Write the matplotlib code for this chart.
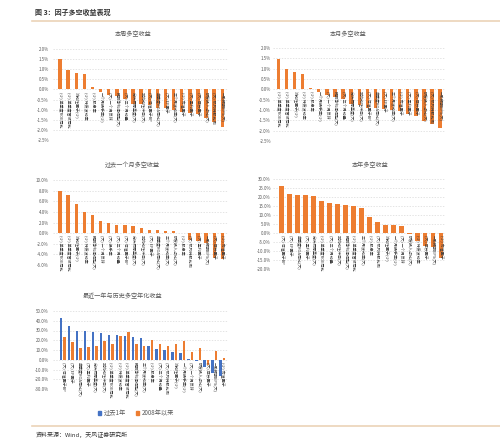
import numpy as np
import matplotlib.pyplot as plt
from matplotlib.patches import Patch

plt.rcParams['font.family'] = ['Noto Sans CJK SC', 'DejaVu Sans']

ORANGE = '#ED7D31'
BLUE = '#4472C4'
GRAY = '#595959'
LINE = '#EBD3B8'
W, H = 500, 446

# 本周多空收益 (%)
week_names = ['(小) 单季度ROE同比', '(小) 单季度营收同比', '流动性因子(小)', '(小) 特质波动率',
              '(小) 股息率', '一个月换手率(小)', '(大) 一个月反转', '预期净利润调整(大)',
              '(大) 三个月动量', '分析师覆盖度(大)', '非流动性冲击(大)', '(大) 估值因子BP',
              '单季度ROA同比(大)', '(大) EP因子', '三个月波动率(大)', '(小) 市值因子',
              '(大) 盈利因子', '(大) 成长因子', '研发投入占比(大)', '(大) 机构持股比例',
              '一致预期EPS(大)']
week_ret = [1.49, 0.96, 0.81, 0.74, 0.10, -0.15, -0.25, -0.30, -0.45, -0.70, -0.72,
            -0.78, -0.90, -0.92, -1.00, -1.10, -1.15, -1.22, -1.40, -1.60, -1.85]

# 本月多空收益 (%)
month_names = week_names
month_ret = [1.45, 0.97, 0.82, 0.75, 0.08, -0.12, -0.25, -0.35, -0.45, -0.70, -0.75,
             -0.90, -0.90, -0.95, -1.00, -1.05, -1.20, -1.30, -1.55, -1.70, -1.85]

# 过去一个月多空收益 (%)
past_month_names = ['(小) 单季度ROE同比', '(小) 单季度营收同比', '流动性因子(小)',
                    '(小) 特质波动率', '预期净利润调整(大)', '(大) 一个月反转', '(大) 换手率',
                    '(大) 三个月动量', '(大) 估值因子BP', '分析师覆盖度(大)', '非流动性冲击(大)',
                    '(大) EP因子', '单季度ROA同比(大)', '三个月波动率(大)', '研发投入占比(大)',
                    '(小) 股息率', '(大) 机构持股比例', '(大) 盈利因子', '一致预期EPS(大)',
                    '(大) 成长因子', '(小) 市值因子']
past_month_ret = [8.0, 7.1, 5.4, 3.9, 3.4, 2.3, 1.9, 1.5, 1.45, 1.3, 1.0, 0.6, 0.6,
                  0.45, 0.4, 0.05, -1.2, -1.4, -1.9, -4.6, -4.8]

# 本年多空收益 (%)
ytd_names = ['(大) 估值因子BP', '(大) EP因子', '单季度ROA同比(大)', '(大) 盈利因子',
             '分析师覆盖度(大)', '(小) 单季度ROE同比', '(大) 三个月动量', '非流动性冲击(大)',
             '预期净利润调整(大)', '(小) 单季度营收同比', '三个月波动率(大)', '(小) 股息率',
             '(大) 机构持股比例', '流动性因子(小)', '一个月换手率(小)', '(大) 一个月反转',
             '研发投入占比(大)', '(小) 特质波动率', '(大) 成长因子', '一致预期EPS(大)',
             '(小) 市值因子']
ytd_ret = [25.9, 21.9, 21.0, 21.0, 20.4, 17.8, 16.9, 16.3, 15.4, 15.0, 13.9, 8.7, 5.9,
           4.6, 4.6, 3.7, -0.7, -4.4, -7.4, -7.8, -13.7]

# 最近一年与历史多空年化收益 (%)
annual_names = ['(大) 估值因子BP', '(大) EP因子', '单季度ROA同比(大)', '(大) 盈利因子',
                '分析师覆盖度(大)', '非流动性冲击(大)', '(小) 单季度ROE同比', '(小) 特质波动率',
                '(小) 单季度营收同比', '预期净利润调整(大)', '三个月波动率(大)', '(小) 股息率',
                '(大) 三个月动量', '(大) 机构持股比例', '流动性因子(小)', '一个月换手率(小)',
                '(大) 一个月反转', '研发投入占比(大)', '(大) 成长因子', '一致预期EPS(大)',
                '(小) 市值因子']
last_year_ret = [43.0, 34.5, 30.0, 29.3, 28.7, 27.3, 25.6, 25.0, 24.6, 23.5, 22.2, 13.7,
                 11.3, 10.2, 7.5, 6.8, 0.3, -1.4, -7.5, -13.7, -17.0]
since_2008_ret = [23.0, 18.5, 12.3, 13.0, 14.3, 18.8, 16.4, 24.2, 28.0, 16.4, 14.0, 19.8,
                  15.7, 13.7, 16.4, 18.8, 8.2, 11.6, -5.8, 9.2, 2.0]


def add_ax(fig, x0, x1, ytop, ybot):
    return fig.add_axes([x0 / W, 1 - ybot / H, (x1 - x0) / W, (ybot - ytop) / H])


def style_ax(ax, ylim, step, xlim, pad):
    ax.set_ylim(*ylim)
    ax.set_xlim(*xlim)
    ticks = np.arange(ylim[0], ylim[1] + step / 2, step)
    ax.set_yticks(ticks)
    ax.set_yticklabels([f'{t:.1f}%' for t in ticks])
    ax.set_xticks([])
    ax.tick_params(axis='y', length=0, labelsize=3.2, colors=GRAY, pad=pad)
    for s in ax.spines.values():
        s.set_visible(False)
    ax.yaxis.grid(True, ls=(0, (2, 2)), color='#d9d9d9', lw=0.5)
    ax.set_axisbelow(True)


def cat_labels(ax, names):
    for i, name in enumerate(names):
        ax.annotate(name, (i, 0), xytext=(0, -1.5), textcoords='offset points',
                    rotation=270, ha='center', va='top', fontsize=2.9, color='#3a3a3a')


def bar_panel(fig, rect, title, title_xy, names, values, ylim, step, xlim, width, pad):
    ax = add_ax(fig, *rect)
    x = np.arange(len(values))
    ax.bar(x, values, width=width, color=ORANGE)
    style_ax(ax, ylim, step, xlim, pad)
    cat_labels(ax, names)
    fig.text(title_xy[0] / W, 1 - title_xy[1] / H, title, ha='center', va='center',
             fontsize=4.4, color=GRAY)
    return ax


def main():
    fig = plt.figure(figsize=(5, 4.46), dpi=100)

    # header and footer
    fig.text(35 / W, 1 - 12 / H, '图 3：因子多空收益表现', ha='left', va='center',
             fontsize=5, fontweight='bold', color='#333333')
    fig.add_artist(plt.Line2D([32 / W, 1], [1 - 21 / H] * 2, color=LINE, lw=1.2))
    fig.add_artist(plt.Line2D([32 / W, 1], [1 - 426 / H] * 2, color=LINE, lw=1.2))
    fig.text(36 / W, 1 - 435 / H, '资料来源：Wind，天风证券研究所', ha='left', va='center',
             fontsize=4.3, color='#333333')

    bar_panel(fig, (53, 228, 49, 140), '本周多空收益', (133, 34), week_names, week_ret,
              (-2.5, 2.0), 0.5, (-0.86, 20.7), 0.42, 3)
    bar_panel(fig, (273, 445, 48, 141), '本月多空收益', (348, 34), month_names, month_ret,
              (-2.5, 2.0), 0.5, (-0.66, 20.6), 0.42, 1.5)
    bar_panel(fig, (53, 228, 180, 265), '过去一个月多空收益', (132, 165), past_month_names,
              past_month_ret, (-6.0, 10.0), 2.0, (-0.86, 20.7), 0.4, 3)
    bar_panel(fig, (273, 445, 179, 269), '本年多空收益', (370, 165), ytd_names, ytd_ret,
              (-20.0, 30.0), 5.0, (-1.09, 20.5), 0.6, 1.5)

    # 最近一年与历史多空年化收益
    ax = add_ax(fig, 53, 228, 311, 389)
    x = np.arange(len(annual_names))
    ax.bar(x - 0.2, last_year_ret, width=0.35, color=BLUE, label='过去1年')
    ax.bar(x + 0.2, since_2008_ret, width=0.35, color=ORANGE, label='2008年以来')
    style_ax(ax, (-30.0, 50.0), 10.0, (-1.2, 20.7), 3)
    cat_labels(ax, annual_names)
    fig.text(123 / W, 1 - 296 / H, '最近一年与历史多空年化收益', ha='center', va='center',
             fontsize=4.4, color=GRAY)
    handles = [Patch(color=BLUE), Patch(color=ORANGE)]
    fig.legend(handles, ['过去1年', '2008年以来'], loc='center',
               bbox_to_anchor=(136 / W, 1 - 413 / H), ncol=2, frameon=False, fontsize=4.5,
               handlelength=0.5, handleheight=0.5, columnspacing=1.5, handletextpad=0.5,
               labelcolor=GRAY)

    fig.savefig('out.png', dpi=100)


if __name__ == "__main__":
    main()
